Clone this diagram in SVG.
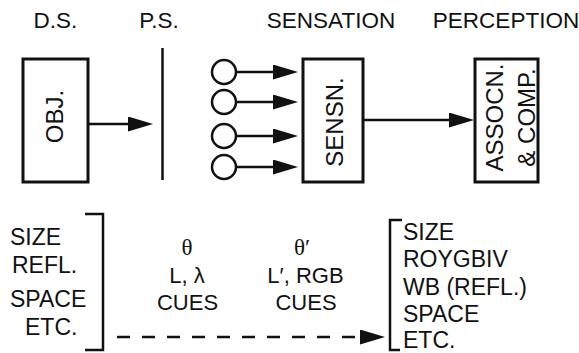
<svg xmlns="http://www.w3.org/2000/svg" width="579" height="353" viewBox="0 0 579 353">
<style>
  text { font-family: "Liberation Sans", Arial, sans-serif; fill: #111; }
  .hdr { font-size: 22.5px; text-anchor: middle; }
  .box { fill: #fff; stroke: #111; stroke-width: 3; }
  .lbl { font-size: 24px; text-anchor: middle; }
  .lst { font-size: 23px; }
  .mid { font-size: 22px; text-anchor: middle; }
  .th { font-family: "Liberation Serif", "Times New Roman", serif; font-size: 23px; text-anchor: middle; }
  .ln { fill: none; stroke: #111; stroke-width: 2.5; }
  .dash { stroke-dasharray: 13 12; }
</style>
<defs>
  <marker id="ah" markerUnits="userSpaceOnUse" markerWidth="26" markerHeight="16" refX="15" refY="7.5" orient="auto">
    <path d="M0,0 L25,7.5 L0,15 Z" fill="#111"/>
  </marker>
</defs>
<rect width="579" height="353" fill="#fff"/>

<g id="headers">
  <text class="hdr" x="55.5" y="28">D.S.</text>
  <text class="hdr" x="159" y="28">P.S.</text>
  <text class="hdr" x="331" y="28">SENSATION</text>
  <text class="hdr" x="506" y="28">PERCEPTION</text>
</g>

<g id="obj">
  <rect class="box" x="23" y="59" width="65" height="123"/>
  <text class="lbl" transform="translate(63,116.5) rotate(-90)">OBJ.</text>
</g>

<g id="ps">
  <line class="ln" x1="162.5" y1="48" x2="162.5" y2="180"/>
</g>

<g id="receptors">
  <circle class="ln" cx="224" cy="72" r="12"/>
  <circle class="ln" cx="224" cy="102" r="12"/>
  <circle class="ln" cx="224" cy="136" r="12"/>
  <circle class="ln" cx="224" cy="167" r="12"/>
</g>

<g id="sensn">
  <rect class="box" x="303" y="59" width="60" height="123"/>
  <text class="lbl" transform="translate(343,122) rotate(-90)">SENSN.</text>
</g>

<g id="assocn">
  <rect class="box" x="475" y="59" width="63" height="123"/>
  <text class="lbl" transform="translate(503,117.5) rotate(-90)">ASSOCN.</text>
  <text class="lbl" transform="translate(535,117.5) rotate(-90)">&amp; COMP.</text>
</g>

<g id="connectors">
  <path class="ln" d="M88,124 H143" marker-end="url(#ah)"/>
  <path class="ln" d="M236,72 H288" marker-end="url(#ah)"/>
  <path class="ln" d="M236,102 H288" marker-end="url(#ah)"/>
  <path class="ln" d="M236,136 H288" marker-end="url(#ah)"/>
  <path class="ln" d="M236,167 H288" marker-end="url(#ah)"/>
  <path class="ln" d="M363,120 H464" marker-end="url(#ah)"/>
  <path class="ln dash" d="M117,337 H375" marker-end="url(#ah)"/>
</g>

<g id="left-list">
  <path class="ln" d="M85,214 H103 V350 H85"/>
  <text class="lst" x="10" y="245">SIZE</text>
  <text class="lst" x="12" y="273">REFL.</text>
  <text class="lst" x="10" y="307">SPACE</text>
  <text class="lst" x="25" y="335">ETC.</text>
</g>

<g id="cues1">
  <text class="th" x="187" y="255">θ</text>
  <text class="mid" x="187" y="283">L, λ</text>
  <text class="mid" x="187.5" y="310">CUES</text>
</g>

<g id="cues2">
  <text class="th" x="302" y="255">θ′</text>
  <text class="mid" x="305.5" y="283">L′, RGB</text>
  <text class="mid" x="306" y="310">CUES</text>
</g>

<g id="right-list">
  <path class="ln" d="M402,220 H390 V350 H400"/>
  <text class="lst" x="403" y="240">SIZE</text>
  <text class="lst" x="403" y="267">ROYGBIV</text>
  <text class="lst" x="403" y="295">WB (REFL.)</text>
  <text class="lst" x="403" y="322">SPACE</text>
  <text class="lst" x="403" y="348">ETC.</text>
</g>
</svg>
